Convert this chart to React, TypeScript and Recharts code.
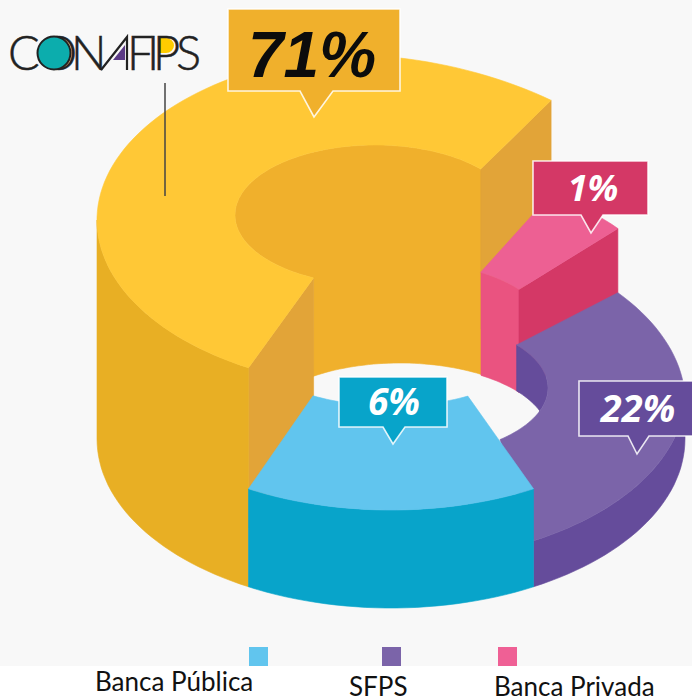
import { PieChart, Pie, Legend } from "recharts";

// yellow, pink, purple, blue: painted back to front, clockwise
const sliceNames = ["CONAFIPS", "Banca Privada", "SFPS", "Banca Pública"];
const sliceLabels = ["71%", "1%", "22%", "6%"];
// the drawing is not to scale, so the sweep is read off the picture (degrees)
const drawnSweep = [184, 17.5, 100.5, 58];
const sliceHeights = [219, 103, 46, 98];

const topColors = ["#ffc836", "#ed6093", "#7b64a9", "#61c5ee"];
const wallColors = ["#e8af24", "#ea5380", "#654c9b", "#08a4ca"];
const boxColors = ["#f0b02c", "#d43866", "#654c9b", "#08a4ca"];
const labelInk = ["#0c0c0c", "#ffffff", "#ffffff", "#ffffff"];

const legendNames = ["Banca Pública", "SFPS", "Banca Privada"];
const legendColors = ["#61c5ee", "#7b64a9", "#ef6095"];
const legendSwatchX = [249, 382, 498];
const legendTextX = [95, 349, 494];
const legendTextY = [691, 696, 696];

type Ellipse = { cx: number; cy: number; rx: number; ry: number };

const RY_RATIO = 169 / 294;

// inner hole edge of every top face, with angle offsets against the pie angles
const innerEdges: Ellipse[] = [
  { cx: 375, cy: 215, rx: 140, ry: 70 },
  { cx: 400, cy: 331, rx: 148, ry: 70 },
  { cx: 400, cy: 388, rx: 148, ry: 70 },
  { cx: 391, cy: 336, rx: 150, ry: 70 },
];
const innerOffsets = [
  [3, -16],
  [0, -3],
  [-1.5, 13.5],
  [1.8, -2.3],
];
// the back of the yellow and purple tops drops a bit on the right
const backSag = [0.1, 0, 0.025, 0];

// hole walls: top arc, then the floor arc back
const holeWalls: ({ top: number[]; floor: Ellipse; back: number[] } | null)[] = [
  { top: [41, 244], floor: { cx: 400, cy: 433, rx: 148, ry: 70 }, back: [126, 41] },
  { top: [56.8, 36.5], floor: { cx: 400, cy: 434, rx: 148, ry: 70 }, back: [36.5, 56.8] },
  { top: [38, -20], floor: { cx: 400, cy: 434, rx: 148, ry: 70 }, back: [17.6, 38] },
  null,
];

// cut faces: which side shows, colour, how far down to draw it
const cutFaces = [
  { sides: ["start", "end"], fill: "#e2a438", depth: 160 },
  { sides: ["end"], fill: "#d43866", depth: 103 },
  { sides: [] as string[], fill: "", depth: 0 },
  { sides: [] as string[], fill: "", depth: 0 },
];

const holeFill = ["#f0b02c", "#ea5380", "#654c9b", ""];

// callout boxes [left, top, right, bottom], pointer [left, tipX, tipY, right]
const calloutBoxes = [
  [228, 9, 400, 91],
  [533, 161, 648, 215],
  [579, 381, 700, 436],
  [339, 377, 447, 427],
];
const calloutTips = [
  [300, 314, 117, 333],
  [581, 591, 233, 603],
  [628, 637, 454, 649],
  [383, 393, 444, 405],
];
const calloutText = [
  { x: 312, y: 77, size: 64, font: "'Liberation Sans', Arial, sans-serif" },
  { x: 593, y: 201, size: 36, font: "'Open Sans', sans-serif" },
  { x: 638, y: 422, size: 38, font: "'Open Sans', sans-serif" },
  { x: 394, y: 415, size: 37, font: "'Open Sans', sans-serif" },
];

const chartData = sliceNames.map((name, i) => ({
  name,
  sweep: drawnSweep[i],
  fill: topColors[i],
}));

const onEllipse = (e: Ellipse, deg: number) => {
  const a = (deg * Math.PI) / 180;
  return [e.cx + e.rx * Math.cos(a), e.cy - e.ry * Math.sin(a)];
};

const arcPoints = (e: Ellipse, from: number, to: number, sag = 0) => {
  const n = Math.max(2, Math.ceil(Math.abs(to - from) / 2));
  const pts: number[][] = [];
  for (let i = 0; i <= n; i++) {
    const deg = from + ((to - from) * i) / n;
    const [x, y] = onEllipse(e, deg);
    const upper = Math.sin((deg * Math.PI) / 180) > 0;
    const extra = upper ? Math.max(0, x - e.cx + 60) * sag : 0;
    pts.push([x, y + extra]);
  }
  return pts;
};

const toPath = (pts: number[][]) =>
  "M" + pts.map((p) => `${p[0].toFixed(1)},${p[1].toFixed(1)}`).join("L") + "Z";

const Face = ({ pts, fill }: { pts: number[][]; fill: string }) => (
  <path d={toPath(pts)} fill={fill} stroke={fill} strokeWidth={0.6} />
);

function SliceShape(props: any) {
  const { cx, cy, outerRadius, startAngle, endAngle, name } = props;
  const i = sliceNames.indexOf(name ?? props.payload?.name);
  const h = sliceHeights[i];
  const rim: Ellipse = { cx, cy: cy - h, rx: outerRadius, ry: outerRadius * RY_RATIO };
  const base: Ellipse = { ...rim, cy };
  const inner = innerEdges[i];
  const innerFrom = startAngle + innerOffsets[i][0];
  const innerTo = endAngle + innerOffsets[i][1];
  const sag = backSag[i];

  const outerArc = arcPoints(rim, startAngle, endAngle, sag);
  const innerArc = arcPoints(inner, innerTo, innerFrom);

  const wall = holeWalls[i];
  const cut = cutFaces[i];

  // only the part of the rim that faces the viewer (180..360 deg, or -180..0)
  const a0 = ((startAngle % 360) + 360) % 360;
  const a1 = a0 - (startAngle - endAngle);
  const frontSpans = [0, -360]
    .map((shift) => [Math.min(a0, 360 + shift), Math.max(a1, 180 + shift)])
    .filter(([from, to]) => from > to);

  const cutPoly = (side: string) => {
    const o = side === "start" ? outerArc[0] : outerArc[outerArc.length - 1];
    const n = side === "start" ? innerArc[innerArc.length - 1] : innerArc[0];
    return [o, n, [n[0], n[1] + cut.depth], [o[0], o[1] + cut.depth]];
  };

  return (
    <g>
      {wall && (
        <Face
          fill={holeFill[i]}
          pts={[
            ...arcPoints(inner, wall.top[0], wall.top[1]),
            ...arcPoints(wall.floor, wall.back[0], wall.back[1]),
          ]}
        />
      )}
      {cut.sides.map((s) => (
        <Face key={s} fill={cut.fill} pts={cutPoly(s)} />
      ))}
      {frontSpans.map(([from, to]) => (
        <Face
          key={from}
          fill={wallColors[i]}
          pts={[...arcPoints(rim, from, to), ...arcPoints(base, to, from)]}
        />
      ))}
      <Face fill={topColors[i]} pts={[...outerArc, ...innerArc]} />
    </g>
  );
}

function Callout(props: any) {
  const i = props.index;
  const [l, t, r, b] = calloutBoxes[i];
  const [pl, tx, ty, pr] = calloutTips[i];
  const txt = calloutText[i];
  const pts = `${l},${t} ${r},${t} ${r},${b} ${pr},${b} ${tx},${ty} ${pl},${b} ${l},${b}`;
  return (
    <g>
      <polygon points={pts} fill={boxColors[i]} stroke="#ffffff" strokeOpacity={0.85} strokeWidth={1.6} />
      <text
        x={txt.x}
        y={txt.y}
        textAnchor="middle"
        fontFamily={txt.font}
        fontSize={txt.size}
        fontWeight={700}
        fontStyle="italic"
        fill={labelInk[i]}
      >
        {sliceLabels[i]}
      </text>
    </g>
  );
}

function LegendRow() {
  return (
    <svg width={692} height={699} style={{ position: "absolute", left: 0, top: 0 }}>
      {legendNames.map((name, i) => (
        <g key={name}>
          <rect x={legendSwatchX[i]} y={647} width={19} height={19} fill={legendColors[i]} />
          <text
            x={legendTextX[i]}
            y={legendTextY[i]}
            fontFamily="Lato, sans-serif"
            fontSize={26}
            fill="#111111"
          >
            {name}
          </text>
        </g>
      ))}
    </svg>
  );
}

function Logo() {
  return (
    <svg width={692} height={699} style={{ position: "absolute", left: 0, top: 0 }}>
      <path d="M158,38 L166,38 A8,7.5 0 0 1 166,53 L158,53 Z" fill="#ffcc00" />
      <text
        x="8 40 71 100 127 147 153 176"
        y={70}
        fontFamily="Lato, sans-serif"
        fontWeight={300}
        fontSize={47}
        fill="#222222"
        stroke="#222222"
        strokeWidth={0.5}
      >
        CON<tspan fill="none" stroke="none">A</tspan>FIPS
      </text>
      <circle cx={54} cy={53} r={16.5} fill="#0cadad" stroke="#222222" strokeWidth={2} />
      <path d="M113,60 L125,45 L125,60 Z" fill="#5b3a86" />
      <path d="M101,70 L127,37 L127,70" fill="none" stroke="#222222" strokeWidth={2.2} />
      <line x1={165} y1={83} x2={165} y2={196} stroke="#444444" strokeWidth={1.5} />
    </svg>
  );
}

export default function App() {
  return (
    <div
      style={{
        position: "absolute",
        left: 0,
        top: 0,
        width: 692,
        height: 699,
        overflow: "hidden",
        background: "linear-gradient(#f8f8f8 666px, #ffffff 666px)",
      }}
    >
      <PieChart width={692} height={699} margin={{ top: 0, right: 0, bottom: 0, left: 0 }}>
        <Pie
          data={chartData}
          dataKey="sweep"
          nameKey="name"
          cx={391}
          cy={439}
          innerRadius={150}
          outerRadius={294}
          startAngle={241}
          endAngle={-119}
          paddingAngle={0}
          stroke="none"
          shape={SliceShape}
          label={Callout}
          labelLine={false}
          isAnimationActive={false}
        />
        <Legend content={() => null} />
      </PieChart>
      <LegendRow />
      <Logo />
    </div>
  );
}
